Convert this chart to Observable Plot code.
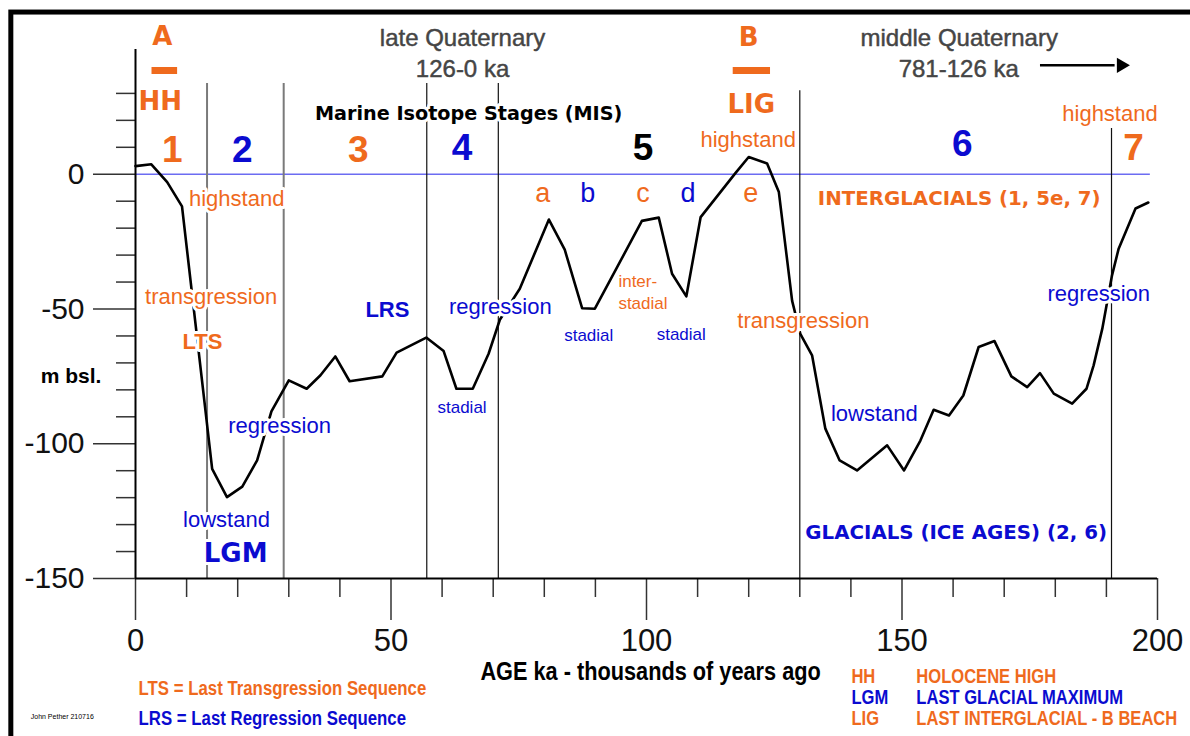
<!DOCTYPE html>
<html>
<head>
<meta charset="utf-8">
<script src="https://cdn.jsdelivr.net/npm/d3@7"></script>
<script src="https://cdn.jsdelivr.net/npm/@observablehq/plot@0.6"></script>
<style>
  html, body { margin: 0; padding: 0; background: #fff; overflow: hidden; }
  #chart { width: 1190px; height: 736px; }
</style>
</head>
<body>
<div id="chart"></div>
<script>
// ---------- DATA ----------
// Sea-level curve: age (ka) and level (m relative to present)
const ageKa = [0, 3.1, 6.2, 9.1, 15.0, 17.9, 20.9, 23.8, 26.6, 30.0, 33.5, 36.2, 39.1, 41.9, 48.3, 51.1,
  56.9, 60.3, 62.8, 66.0, 69.1, 71.3, 75.2, 80.9, 84.0, 87.4, 89.9, 99.1, 102.4, 105.0, 107.8, 110.6,
  117.4, 120.0, 123.6, 125.9, 128.5, 130.1, 132.4, 135.0, 137.8, 141.2, 147.1, 150.4, 153.6, 156.2,
  159.2, 162.0, 165.0, 168.1, 171.4, 174.5, 177.0, 179.7, 183.3, 186.1, 187.5, 189.2, 191.1, 192.4,
  195.7, 198.2];
const seaLevelM = [3.0, 3.7, -2.9, -11.9, -109.3, -119.8, -115.9, -106.2, -88.0, -76.5, -79.6, -74.6, -67.6, -76.8, -75.0, -66.2,
  -60.6, -65.6, -79.6, -79.6, -66.6, -54.0, -42.5, -16.8, -28.0, -49.7, -49.9, -17.3, -16.1, -36.9, -45.3, -15.9,
  0.4, 6.4, 4.0, -6.6, -47.0, -59.2, -67.2, -94.4, -106.2, -109.9, -100.6, -109.9, -98.8, -87.4,
  -89.5, -82.1, -64.1, -61.9, -75.0, -79.0, -73.8, -81.4, -85.1, -79.6, -70.9, -57.3, -37.5, -27.6,
  -12.7, -10.5];

// Marine Isotope Stage boundaries (ka) and the level (m) where each boundary line starts
const stageBoundaryKa = [14, 29, 57, 71, 130, 191];
const stageBoundaryTopM = [33.7, 33.7, 33.7, 33.7, 31, 17];

// Axis ticks
const xMajorTicks = [0, 50, 100, 150, 200];
const xMinorTicks = [10, 20, 30, 40, 60, 70, 80, 90, 110, 120, 130, 140, 160, 170, 180, 190];
const yMajorTicks = [0, -50, -100, -150];
const yMinorTicks = [30, 20, 10, -10, -20, -30, -40, -60, -70, -80, -90, -110, -120, -130, -140];

// Present sea level reference line extent (ka)
const zeroLineKa = [0, 198.6];

// Beach markers (A, B) dashes
const dashStartKa = [3.23, 116.97];
const dashEndKa = [8.24, 124.27];
const dashM = [38.5, 38.5];

// Arrow toward the middle Quaternary
const arrowKa = [177.1, 192.9];
const arrowM = 40.4;

// Frame around the figure (data units)
const frameKa = [-24.3, 210.9];
const frameM = [60.0, -212.0];

// Annotations: text, position (ka, m), colour class, role
const annText = [
  "A", "B", "HH", "LIG", "LGM",
  "Marine Isotope Stages (MIS)", "INTERGLACIALS (1, 5e, 7)", "GLACIALS (ICE AGES) (2, 6)",
  "1", "2", "3", "4", "5", "6", "7",
  "a", "b", "c", "d", "e",
  "highstand", "transgression", "regression", "lowstand", "regression", "highstand", "transgression", "lowstand", "regression", "highstand",
  "stadial", "stadial", "stadial",
  "inter-", "stadial",
  "LTS", "LRS",
  "late Quaternary", "126-0 ka", "middle Quaternary", "781-126 ka",
  "m bsl.",
  "AGE ka - thousands of years ago",
  "LTS = Last Transgression Sequence", "LRS = Last Regression Sequence",
  "HH", "LGM", "LIG",
  "HOLOCENE HIGH", "LAST GLACIAL MAXIMUM", "LAST INTERGLACIAL - B BEACH",
  "John Pether 210716"
];
const annKa = [
  5.26, 120.0, 4.83, 120.5, 19.6,
  65.2, 161.2, 160.6,
  7.2, 20.9, 43.6, 63.9, 99.3, 161.8, 195.3,
  79.7, 88.5, 99.3, 108.1, 120.4,
  19.8, 14.8, 28.2, 17.8, 71.4, 119.9, 130.7, 144.6, 188.5, 190.7,
  63.9, 88.7, 106.8,
  94.5, 94.5,
  13.1, 49.3,
  64.0, 64.0, 161.2, 161.1,
  -12.6,
  100.8,
  0.6, 0.6,
  140.1, 140.1, 140.1,
  152.8, 152.8, 152.8,
  -20.5
];
const annM = [
  50.9, 50.7, 26.9, 25.9, -140.9,
  22.3, -9.1, -133.1,
  8.8, 8.8, 8.8, 9.7, 9.7, 11.0, 9.6,
  -7.1, -7.1, -7.1, -7.1, -7.1,
  -9.0, -45.7, -93.5, -128.4, -49.2, 12.9, -54.4, -88.8, -44.6, 22.5,
  -86.7, -60.0, -59.4,
  -39.9, -47.9,
  -62.4, -50.2,
  50.6, 38.9, 50.6, 38.9,
  -75.0,
  -184.5,
  -190.8, -201.9,
  -186.3, -194.1, -201.9,
  -186.3, -194.1, -201.9,
  -201.2
];
const annKind = [
  "warm", "warm", "warm", "warm", "cold",
  "neutral", "warm", "cold",
  "warm", "cold", "warm", "cold", "neutral", "cold", "warm",
  "warm", "cold", "warm", "cold", "warm",
  "warm", "warm", "cold", "cold", "cold", "warm", "warm", "cold", "cold", "warm",
  "cold", "cold", "cold",
  "warm", "warm",
  "warm", "cold",
  "period", "period", "period", "period",
  "neutral",
  "neutral",
  "warm", "cold",
  "warm", "cold", "warm",
  "warm", "cold", "warm",
  "neutral"
];
const annRole = [
  "marker", "marker", "marker", "marker", "marker",
  "banner", "banner2", "banner2",
  "stage", "stage", "stage", "stage", "stage", "stage", "stage",
  "substage", "substage", "substage", "substage", "substage",
  "phase", "phase", "phase", "phase", "phase", "phase", "phase", "phase", "phase", "phase",
  "minor", "minor", "minor",
  "minorStart", "minorStart",
  "seq", "seq",
  "period", "period", "period", "period",
  "ylabel",
  "xtitle",
  "footnote", "footnote",
  "legend", "legend", "legend",
  "legend", "legend", "legend",
  "credit"
];

// ---------- STYLE ----------
const COLORS = {warm: "#ef6a1d", cold: "#0b0bd0", neutral: "#000000", period: "#454545"};
const REG = "'Liberation Sans', Arial, Helvetica, sans-serif";
const NARROW = "'Liberation Sans Narrow', 'Liberation Sans', Arial, sans-serif";
const HEAVY = "'DejaVu Sans', Verdana, sans-serif";
const NARROW_SCALE = 0.82;
const ROLE_STYLE = {
  marker:     {fontFamily: HEAVY, fontWeight: "bold", fontSize: 26, halo: true},
  banner:     {fontFamily: HEAVY, fontWeight: "bold", fontSize: 19.2, halo: true},
  banner2:    {fontFamily: HEAVY, fontWeight: "bold", fontSize: 19.8, halo: true},
  stage:      {fontFamily: REG, fontWeight: "bold", fontSize: 37, halo: true},
  substage:   {fontFamily: REG, fontWeight: "normal", fontSize: 27, halo: true},
  phase:      {fontFamily: REG, fontWeight: "normal", fontSize: 22, halo: true},
  minor:      {fontFamily: REG, fontWeight: "normal", fontSize: 17, halo: true},
  minorStart: {fontFamily: REG, fontWeight: "normal", fontSize: 17, halo: true, textAnchor: "start"},
  seq:        {fontFamily: REG, fontWeight: "bold", fontSize: 22, halo: true},
  period:     {fontFamily: REG, fontWeight: "normal", fontSize: 24, halo: false, thicken: true},
  ylabel:     {fontFamily: REG, fontWeight: "bold", fontSize: 21, halo: false},
  xtitle:     {fontFamily: NARROW, fontWeight: "bold", fontSize: 26.5, halo: false},
  footnote:   {fontFamily: NARROW, fontWeight: "bold", fontSize: 20.5, halo: false, textAnchor: "start"},
  legend:     {fontFamily: NARROW, fontWeight: "bold", fontSize: 20.2, halo: false, textAnchor: "start"},
  credit:     {fontFamily: REG, fontWeight: "normal", fontSize: 7, halo: false, textAnchor: "start"}
};

// ---------- TABLES ----------
const curve = ageKa.map((x, i) => ({x, y: seaLevelM[i]}));
const boundaries = stageBoundaryKa.map((x, i) => ({x, top: stageBoundaryTopM[i]}));
const dashes = dashStartKa.map((x1, i) => ({x1, x2: dashEndKa[i], y: dashM[i]}));
const annotations = annText.map((text, i) => ({
  text, x: annKa[i], y: annM[i], color: COLORS[annKind[i]], role: annRole[i]
}));

const textMarks = Object.entries(ROLE_STYLE).map(([role, s]) =>
  Plot.text(annotations.filter(d => d.role === role), {
    x: "x", y: "y", text: "text", fill: "color",
    fontFamily: s.fontFamily, fontWeight: s.fontWeight, fontSize: s.fontSize,
    textAnchor: s.textAnchor || "middle", lineAnchor: "middle",
    ...(s.halo ? {stroke: "white", strokeWidth: 6, strokeLinejoin: "round", paintOrder: "stroke"} : {}),
    ...(s.thicken ? {stroke: "color", strokeWidth: 0.45} : {})
  })
);

const chart = Plot.plot({
  width: 1190,
  height: 736,
  marginLeft: 135,
  marginRight: 33,
  marginTop: 39,
  marginBottom: 158,
  x: {domain: [0, 200], axis: null, label: null},
  y: {domain: [-150, 50], axis: null, label: null},
  color: {type: "identity"},
  style: {fontFamily: REG, background: "white", overflow: "visible"},
  marks: [
    // outer frame
    Plot.rect([0], {x1: frameKa[0], x2: frameKa[1], y1: frameM[0], y2: frameM[1], fill: "none", stroke: "black", strokeWidth: 5}),
    // present sea level
    Plot.ruleY([0], {x1: zeroLineKa[0], x2: zeroLineKa[1], stroke: "#6c6cf2", strokeWidth: 1.5}),
    // stage boundaries
    Plot.ruleX(boundaries.slice(0, 2), {x: "x", y1: "top", y2: -150, stroke: "#7a7a7a", strokeWidth: 2}),
    Plot.ruleX(boundaries.slice(2), {x: "x", y1: "top", y2: -150, stroke: "#111", strokeWidth: 1.2}),
    // sea level curve
    Plot.line(curve, {x: "x", y: "y", stroke: "black", strokeWidth: 2.6}),
    // beach dashes
    Plot.ruleY(dashes, {x1: "x1", x2: "x2", y: "y", stroke: COLORS.warm, strokeWidth: 7}),
    // arrow
    Plot.ruleY([arrowM], {x1: arrowKa[0], x2: arrowKa[1] - 1.2, stroke: "black", strokeWidth: 2.5}),
    Plot.dot([0], {x: arrowKa[1], y: arrowM, symbol: "triangle", rotate: 90, r: 5.6, fill: "black", stroke: null}),
    // text
    ...textMarks,
    // axes
    Plot.axisY(yMinorTicks, {anchor: "left", tickSize: 19, tickFormat: () => "", label: null, stroke: "#333", strokeWidth: 1.5}),
    Plot.axisY(yMajorTicks, {anchor: "left", tickSize: 42, tickPadding: 9, fontSize: 30, tickFormat: d => `${d}`, label: null,
      stroke: "#333", strokeWidth: 1.5, fill: "#111"}),
    Plot.axisX(xMinorTicks, {anchor: "bottom", tickSize: 19, tickFormat: () => "", label: null, stroke: "#333", strokeWidth: 1.5}),
    Plot.axisX(xMajorTicks, {anchor: "bottom", tickSize: 42, tickPadding: 8, fontSize: 31, tickFormat: d => `${d}`, label: null,
      stroke: "#333", strokeWidth: 1.5, fill: "#111"}),
    Plot.ruleX([0], {y1: -150, y2: 46.3, stroke: "black", strokeWidth: 2}),
    Plot.ruleY([-150], {x1: 0, x2: 200, stroke: "black", strokeWidth: 2})
  ]
});

// condense the "narrow" texts (no Arial Narrow face is installed)
d3.select(chart).selectAll('g[font-family*="Narrow"] text').each(function () {
  const t = this.getAttribute("transform");
  if (t && t.includes("translate")) {
    this.setAttribute("transform", `${t} scale(${NARROW_SCALE},1)`);
  } else {
    const x = +this.getAttribute("x") || 0, y = +this.getAttribute("y") || 0;
    this.setAttribute("x", 0);
    this.setAttribute("y", 0);
    this.setAttribute("transform", `translate(${x},${y}) scale(${NARROW_SCALE},1)`);
  }
});

document.getElementById("chart").appendChild(chart);
</script>
</body>
</html>
